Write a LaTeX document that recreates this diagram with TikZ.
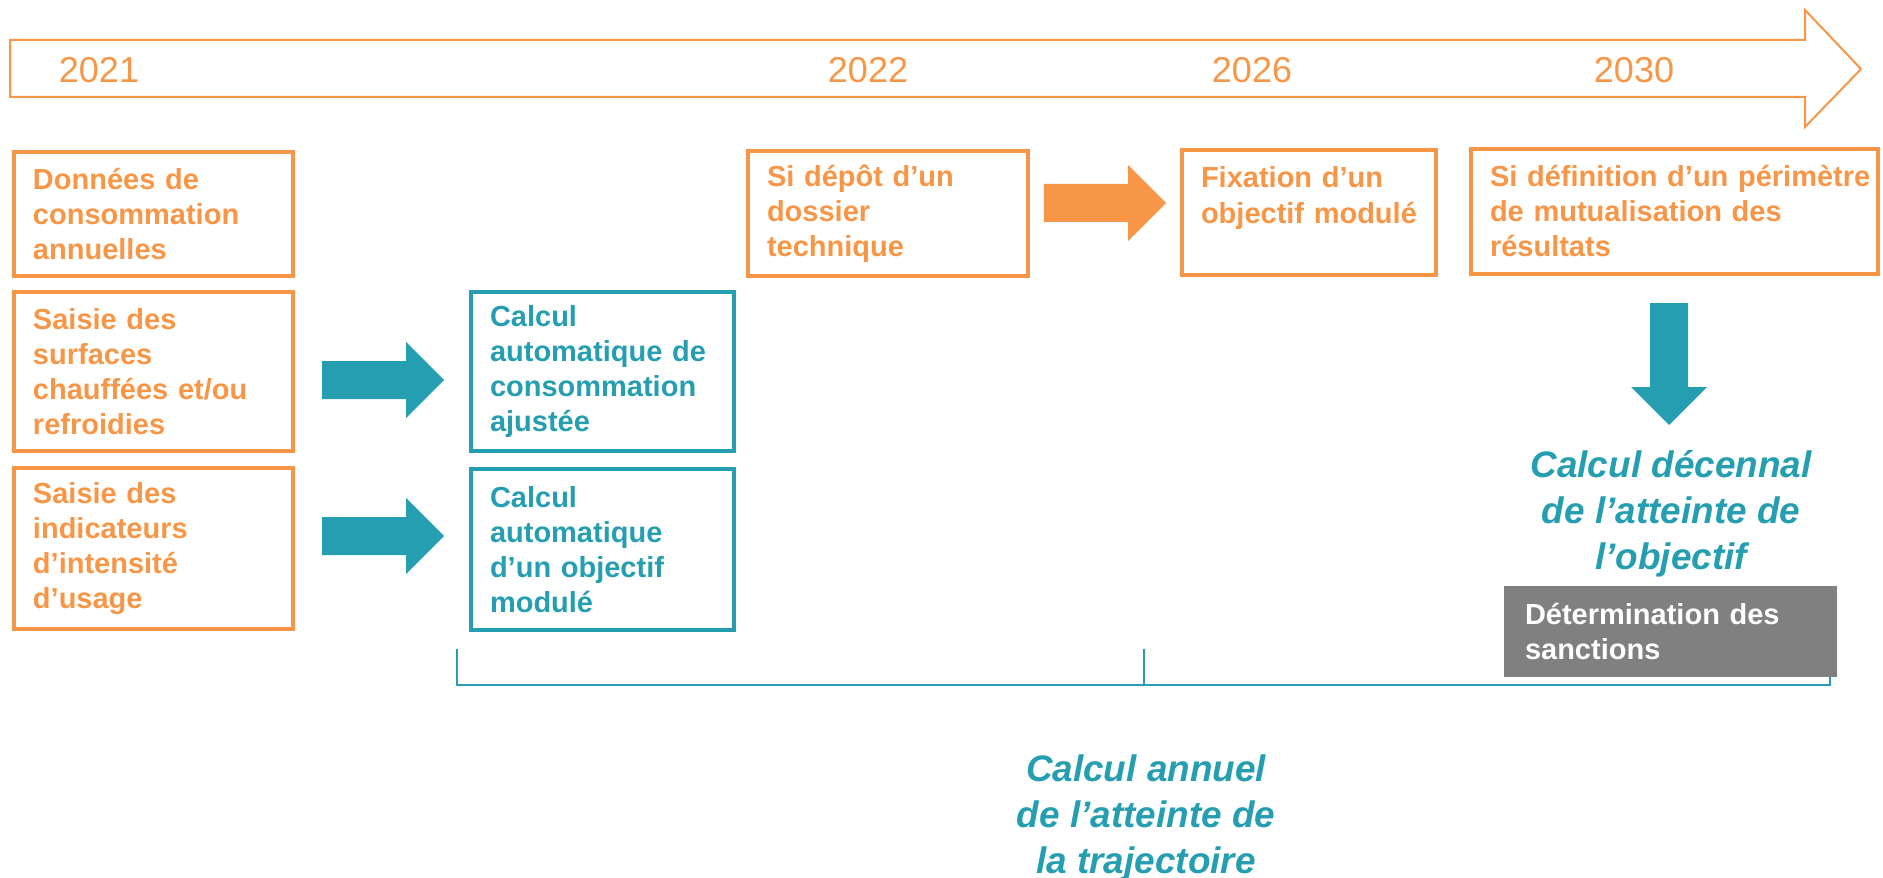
\documentclass[tikz,border=0pt]{standalone}
\usepackage{fontspec}
\setmainfont{Liberation Sans}
\usepackage{tikz}
\usetikzlibrary{positioning, calc}
\definecolor{orng}{HTML}{F79646}
\definecolor{tl}{HTML}{249EB0}
\definecolor{gry}{HTML}{808080}
\newcommand{\boxfont}{\fontsize{8.25pt}{9.96pt}\selectfont\bfseries}
\newcommand{\bigfont}{\fontsize{10.5pt}{13.1pt}\selectfont\bfseries\itshape}
\newcommand{\yearfont}{\fontsize{10.25pt}{12pt}\selectfont}
\newcommand{\blkarrow}[4]{
    \fill[#4, shift={(#1,#2)}, rotate=#3] (0,0.19) -- (0.84,0.19) -- (0.84,0.38) -- (1.22,0) -- (0.84,-0.38) -- (0.84,-0.19) -- (0,-0.19) -- cycle;
}
\tikzset{
    tlbox/.style={draw=#1, text=#1, line width=0.04cm, outer sep=0, inner xsep=0.19cm, inner ysep=0, anchor=north west, align=left, font=\boxfont},
    yearlbl/.style={text=orng, anchor=base, font=\yearfont},
    bigitl/.style={text=tl, align=center, font=\bigfont}
}
\begin{document}
\begin{tikzpicture}
                \useasboundingbox (0,0) rectangle (18.83,8.77);
                \draw[orng, line width=0.02cm] (0.10,8.37) -- (18.05,8.37) -- (18.05,8.67) -- (18.61,8.08) -- (18.05,7.50) -- (18.05,7.80) -- (0.10,7.80) -- cycle;
                \node[yearlbl] (y2021) at (0.99,7.94) {2021};
                \node[yearlbl] (y2022) at (8.68,7.94) {2022};
                \node[yearlbl] (y2026) at (12.52,7.94) {2026};
                \node[yearlbl] (y2030) at (16.34,7.94) {2030};
                \node[tlbox=orng, text width=2.41cm, minimum height=1.24cm] (donnees) at (0.14,7.25) {Données de\\consommation\\annuelles};
                \node[tlbox=orng, text width=2.41cm, minimum height=1.59cm] (surfaces) at (0.14,5.85) {Saisie des\\surfaces\\chauffées et/ou\\refroidies};
                \node[tlbox=orng, text width=2.41cm, minimum height=1.61cm] (indic) at (0.14,4.09) {Saisie des\\indicateurs\\d’intensité\\d’usage};
                \node[tlbox=tl, text width=2.25cm, minimum height=1.59cm] (conso) at (4.71,5.85) {Calcul\\automatique de\\consommation\\ajustée};
                \node[tlbox=tl, text width=2.25cm, minimum height=1.61cm] (objmod) at (4.71,4.08) {Calcul\\automatique\\d’un objectif\\modulé};
                \node[tlbox=orng, text width=2.42cm, minimum height=1.25cm] (depot) at (7.48,7.26) {Si dépôt d’un\\dossier\\technique};
                \node[tlbox=orng, text width=2.16cm, minimum height=1.25cm] (fixation) at (11.82,7.27) {Fixation d’un\\objectif modulé\\\mbox{}};
                \node[tlbox=orng, text width=3.69cm, minimum height=1.25cm] (perimetre) at (14.71,7.28) {\mbox{Si définition d’un périmètre}\\de mutualisation des\\résultats};
                \blkarrow{3.22}{4.97}{0}{tl}
                \blkarrow{3.22}{3.41}{0}{tl}
                \blkarrow{10.44}{6.74}{0}{orng}
                \blkarrow{16.69}{5.74}{-90}{tl}
                \node[bigitl] (decennal) at (16.71,3.63) {Calcul décennal\\de l’atteinte de\\l’objectif};
                % bracket under the yearly part
                \coordinate (brl) at (4.57,2.28);
                \coordinate (brm) at (11.44,2.28);
                \coordinate (brr) at (18.30,2.28);
                \coordinate (brb) at (11.44,1.92);
                \draw[tl, line width=0.02cm] (brl) -- (brl |- brb) -- (brr |- brb) -- (brr);
                \draw[tl, line width=0.02cm] (brm) -- (brb);
                \node[fill=gry, text=white, font=\boxfont, anchor=north west, align=left, outer sep=0, inner xsep=0.21cm, inner ysep=0, text width=2.91cm, minimum height=0.91cm] (sanctions) at (15.04,2.91) {Détermination des\\sanctions};
                \node[bigitl] (annuel) at (11.46,0.59) {Calcul annuel\\de l’atteinte de\\la trajectoire};
\end{tikzpicture}
\end{document}
